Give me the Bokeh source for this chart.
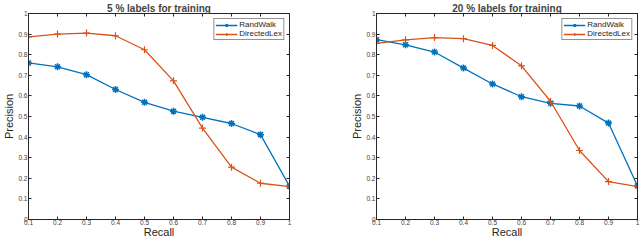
from bokeh.plotting import figure
from bokeh.layouts import row
from bokeh.models import (FixedTicker, PrintfTickFormatter, LinearAxis, Range1d,
                          Legend, LegendItem, CustomLabelingPolicy)
from bokeh.embed import file_html
from bokeh.resources import INLINE

recall = [0.1, 0.2, 0.3, 0.4, 0.5, 0.6, 0.7, 0.8, 0.9, 1.0]
randwalk_5 = [0.760, 0.741, 0.703, 0.631, 0.569, 0.526, 0.496, 0.466, 0.412, 0.162]
directedlex_5 = [0.887, 0.900, 0.905, 0.892, 0.824, 0.673, 0.444, 0.254, 0.176, 0.160]
randwalk_20 = [0.873, 0.848, 0.813, 0.735, 0.658, 0.596, 0.564, 0.551, 0.468, 0.163]
directedlex_20 = [0.855, 0.872, 0.883, 0.878, 0.845, 0.746, 0.574, 0.335, 0.184, 0.160]

titles = ["5 % labels for training", "20 % labels for training"]
series_names = ["RandWalk", "DirectedLex"]
x_ticks = [0.1, 0.2, 0.3, 0.4, 0.5, 0.6, 0.7, 0.8, 0.9, 1.0]
y_ticks = [0, 0.1, 0.2, 0.3, 0.4, 0.5, 0.6, 0.7, 0.8, 0.9, 1.0]

BLUE = "#0072BD"
ORANGE = "#D95319"
FONT = "Liberation Sans"

HIDE_LABELS = """
for (const i of Array.from(indices)) { indices.unset(i) }
return indices
"""


def style_axis(ax, ticks, show_labels=True):
    ax.ticker = FixedTicker(ticks=ticks)
    ax.formatter = PrintfTickFormatter(format="%g")
    ax.major_tick_in = 3
    ax.major_tick_out = 0
    ax.minor_tick_line_color = None
    ax.axis_line_color = "#262626"
    ax.major_tick_line_color = "#262626"
    ax.major_label_text_font = FONT
    ax.major_label_text_color = "#404040"
    ax.axis_label_text_font = FONT
    ax.axis_label_text_font_style = "normal"
    ax.axis_label_text_color = "#262626"
    ax.axis_label_text_font_size = "11px"
    if show_labels:
        ax.major_label_text_font_size = "6.5px"
        ax.major_label_standoff = 1
    else:
        ax.major_label_text_font_size = "0px"
        ax.major_label_standoff = 0
        ax.major_label_policy = CustomLabelingPolicy(code=HIDE_LABELS)


def make(title, rw, dl, width, bl, br):
    p = figure(width=width, height=240, x_range=Range1d(0.1, 1), y_range=Range1d(0, 1),
               output_backend="svg", toolbar_location=None, title=title,
               min_border_left=bl, min_border_right=br, min_border_top=11,
               min_border_bottom=0)
    p.title.text_font = FONT
    p.title.text_font_style = "bold"
    p.title.text_font_size = "10px"
    p.title.text_line_height = 1.0
    p.title.align = "center"
    p.title.offset = 0
    p.title.standoff = 0
    p.xgrid.visible = False
    p.ygrid.visible = False
    p.outline_line_color = "#262626"
    p.background_fill_color = "white"
    p.border_fill_color = "white"

    style_axis(p.xaxis[0], x_ticks)
    style_axis(p.yaxis[0], y_ticks)
    p.xaxis[0].axis_label = "Recall"
    p.xaxis[0].axis_label_standoff = -2
    p.xaxis[0].major_label_standoff = 0
    p.yaxis[0].axis_label = "Precision"
    p.yaxis[0].axis_label_standoff = 0

    top = LinearAxis()
    style_axis(top, x_ticks, show_labels=False)
    p.add_layout(top, "above")
    right = LinearAxis()
    style_axis(right, y_ticks, show_labels=False)
    p.add_layout(right, "right")

    l1 = p.line(recall, rw, line_color=BLUE, line_width=1.3)
    m1 = p.scatter(recall, rw, marker="asterisk", size=7, line_color=BLUE, line_width=1.5)
    l2 = p.line(recall, dl, line_color=ORANGE, line_width=1.3)
    m2 = p.scatter(recall, dl, marker="cross", size=7, line_color=ORANGE, line_width=1.2)

    legend = Legend(items=[LegendItem(label=series_names[0], renderers=[l1, m1]),
                           LegendItem(label=series_names[1], renderers=[l2, m2])],
                    location="top_right")
    legend.label_text_font = FONT
    legend.label_text_font_size = "8px"
    legend.label_text_color = "#262626"
    legend.label_height = 8
    legend.label_standoff = 2
    legend.glyph_height = 8
    legend.glyph_width = 22
    legend.spacing = 0
    legend.padding = 1
    legend.margin = 5
    legend.border_line_color = "#262626"
    legend.border_line_width = 1
    legend.background_fill_alpha = 1
    p.add_layout(legend)
    return p


p1 = make(titles[0], randwalk_5, directedlex_5, 348, 22, 59)
p2 = make(titles[1], randwalk_20, directedlex_20, 292, 22, 3)
layout = row(p1, p2)

open("out.html", "w").write(file_html(layout, INLINE))
